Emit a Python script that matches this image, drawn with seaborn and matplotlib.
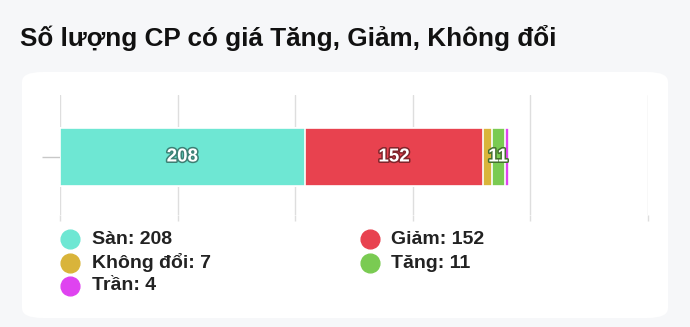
import numpy as np
import matplotlib
matplotlib.use("Agg")
import matplotlib.pyplot as plt
import matplotlib.patheffects as pe
from matplotlib.patches import FancyBboxPatch, Circle
from matplotlib.lines import Line2D
import matplotlib.colors as mcolors
import pandas as pd
import seaborn as sns

# ---- data ----
categories = ["Sàn", "Giảm", "Không đổi", "Tăng", "Trần"]
values = [208, 152, 7, 11, 4]
colors = ["#6ee7d3", "#e8424f", "#d9b43a", "#7acb52", "#df43f0"]
legend_order = ["Sàn", "Không đổi", "Trần", "Giảm", "Tăng"]
title = "Số lượng CP có giá Tăng, Giảm, Không đổi"
xticks = [0, 100, 200, 300, 400, 500]

sns.set_theme(style="white")
plt.rcParams["font.family"] = ["Liberation Sans", "DejaVu Sans"]

W, H = 690, 327
fig = plt.figure(figsize=(W / 100, H / 100), dpi=100)
fig.patch.set_facecolor("#f6f7f9")

def fx(px):
    return px / W

def fy(py):
    return 1 - py / H

# card
card = FancyBboxPatch((fx(22), fy(318)), fx(668) - fx(22), fy(72) - fy(318),
                      boxstyle="round,pad=0,rounding_size=0.03",
                      transform=fig.transFigure, facecolor="white",
                      edgecolor="none", zorder=0)
fig.add_artist(card)

# avatar hint top-right
fig.add_artist(Circle((fx(662), fy(-14)), 0.035, transform=fig.transFigure,
                      facecolor="#2e5d59", edgecolor="none", zorder=1))

fig.text(fx(20), fy(38), title, fontsize=18.8, fontweight="bold",
         color="#111111", va="center", ha="left")

ax = fig.add_axes([fx(60), fy(215), fx(648) - fx(60), (215 - 95) / H])
ax.set_facecolor("none")

cum = np.cumsum(values)
# stacked bars drawn from the longest cumulative to the shortest
for i in range(len(values) - 1, -1, -1):
    df = pd.DataFrame({"v": [cum[i]], "k": ["CP"]})
    sns.barplot(data=df, x="v", y="k", orient="h", color=colors[i],
                saturation=1, width=0.5, linewidth=1.2, edgecolor="white",
                ax=ax, zorder=3)

for i, v in enumerate(values):
    if v >= 10:
        c = np.array(mcolors.to_rgb(colors[i])) * 0.55
        ax.text(cum[i] - v / 2, 0, str(v), ha="center", va="center",
                fontsize=13.5, fontweight="bold", color="white", zorder=5,
                path_effects=[pe.withStroke(linewidth=2.2, foreground=c)])

ax.set_xlim(0, 500)
ax.set_ylim(0.5, -0.534)
ax.set_xticks(xticks)
ax.set_xticklabels([])
ax.set_yticks([0])
ax.set_yticklabels([])
ax.set_xlabel("")
ax.set_ylabel("")
ax.grid(axis="x", color="#dedede", linewidth=1)
ax.set_axisbelow(True)
for s in ax.spines.values():
    s.set_visible(False)
ax.tick_params(axis="y", length=13, color="#c8c8c8", width=1, left=True)
ax.tick_params(axis="x", length=4, color="#dedede", width=1, bottom=True)

# legend
rows = [239, 263, 286]
cols = [(70, 92), (370, 391)]
for j, name in enumerate(legend_order):
    i = categories.index(name)
    col = 0 if j < 3 else 1
    row = j if j < 3 else j - 3
    cx, tx = cols[col]
    fig.add_artist(Line2D([fx(cx)], [fy(rows[row])], marker="o",
                          markersize=13.5, color=colors[i], linestyle="none",
                          transform=fig.transFigure))
    fig.text(fx(tx), fy(rows[row]), f"{name}: {values[i]}", fontsize=14,
             fontweight="bold", color="#222222", va="center", ha="left")

fig.savefig("out.png", dpi=100, facecolor=fig.get_facecolor())
